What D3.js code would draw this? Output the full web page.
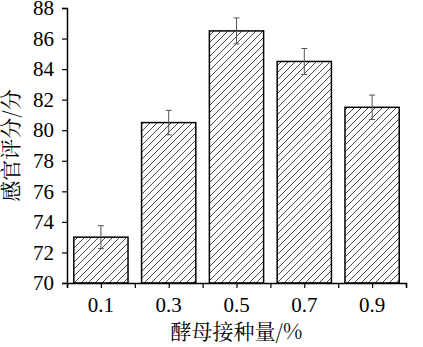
<!DOCTYPE html>
<html>
<head>
<meta charset="utf-8">
<script src="https://cdn.jsdelivr.net/npm/d3@7"></script>
<style>
  html, body { margin: 0; padding: 0; background: #fff; }
  svg text { fill: #000; }
  .num { font-family: "Liberation Serif", "Times New Roman", serif; font-size: 21px; }
  .title { font-family: "Noto Serif CJK SC", "Noto Sans CJK SC", sans-serif; font-size: 21px; }
</style>
</head>
<body>
<div id="chart"></div>
<script>
// data
var categories = ["0.1", "0.3", "0.5", "0.7", "0.9"];
var scores = [73.0, 80.5, 86.5, 84.5, 81.5];
var errors = [0.75, 0.8, 0.85, 0.85, 0.8];
var yTicks = [70, 72, 74, 76, 78, 80, 82, 84, 86, 88];
var xTitle = "酵母接种量/%";
var yTitle = "感官评分/分";

var width = 423, height = 347;
var plotLeft = 67, plotRight = 406, plotTop = 8, plotBottom = 283;

var svg = d3.select("#chart").append("svg")
    .attr("width", width)
    .attr("height", height);

var defs = svg.append("defs");
defs.append("pattern")
    .attr("id", "hatch")
    .attr("patternUnits", "userSpaceOnUse")
    .attr("width", 7)
    .attr("height", 7)
  .append("path")
    .attr("d", "M-1,1 l2,-2 M0,7 l7,-7 M6,8 l2,-2")
    .attr("stroke", "#333")
    .attr("stroke-width", 0.9);

var x = d3.scaleBand()
    .domain(categories)
    .range([plotLeft, plotRight])
    .paddingInner(0.2)
    .paddingOuter(0.1);

var xi = d3.scaleLinear().domain([0, categories.length]).range([plotLeft, plotRight]);

var y = d3.scaleLinear().domain([70, 88]).range([plotBottom, plotTop]);

var data = categories.map(function(c, i) {
    return { key: c, value: scores[i], err: errors[i] };
});

// bars
svg.append("g").selectAll("rect")
    .data(data)
    .enter()
    .append("rect")
    .attr("x", function(d) { return x(d.key); })
    .attr("y", function(d) { return y(d.value); })
    .attr("width", x.bandwidth())
    .attr("height", function(d) { return y(70) - y(d.value); })
    .attr("fill", "url(#hatch)")
    .attr("stroke", "#000")
    .attr("stroke-width", 1.5);

// error bars
var eb = svg.append("g")
    .attr("stroke", "#555")
    .attr("stroke-width", 1);
data.forEach(function(d) {
    var cx = x(d.key) + x.bandwidth() / 2;
    eb.append("line")
        .attr("x1", cx).attr("x2", cx)
        .attr("y1", y(d.value + d.err)).attr("y2", y(d.value - d.err));
    [d.value + d.err, d.value - d.err].forEach(function(v) {
        eb.append("line")
            .attr("x1", cx - 3).attr("x2", cx + 3)
            .attr("y1", y(v)).attr("y2", y(v));
    });
});

// y axis
var gY = svg.append("g")
    .attr("transform", "translate(" + plotLeft + ",0)");
gY.call(d3.axisLeft(y).tickValues(d3.range(71, 88, 2)).tickSize(3).tickFormat(""));
gY.call(d3.axisLeft(y).tickValues(yTicks).tickSize(5).tickPadding(8).tickFormat(d3.format("d")));
gY.selectAll("path.domain").attr("stroke-width", 1.5);
gY.selectAll(".tick line").attr("stroke-width", 1.2);
gY.selectAll("text").attr("class", "num");
gY.attr("font-size", null).attr("font-family", null);

// x axis
var gX = svg.append("g")
    .attr("transform", "translate(0," + plotBottom + ")");
gX.call(d3.axisBottom(xi).tickValues(d3.range(0.25, 5, 0.5)).tickSize(3).tickFormat(""));
gX.call(d3.axisBottom(xi).tickValues(d3.range(0, 5.01, 0.5)).tickSize(5).tickFormat(""));
gX.selectAll("path.domain").attr("stroke-width", 1.5);
gX.selectAll(".tick line").attr("stroke-width", 1.2);
gX.attr("font-size", null).attr("font-family", null);

svg.append("g").selectAll("text")
    .data(categories)
    .enter()
    .append("text")
    .attr("class", "num")
    .attr("x", function(d) { return x(d) + x.bandwidth() / 2; })
    .attr("y", 312)
    .attr("text-anchor", "middle")
    .text(function(d) { return d; });

// titles
svg.append("text")
    .attr("class", "title")
    .attr("x", (plotLeft + plotRight) / 2)
    .attr("y", 339)
    .attr("text-anchor", "middle")
    .text(xTitle);

svg.append("text")
    .attr("class", "title")
    .attr("transform", "translate(18," + (plotTop + plotBottom) / 2 + ") rotate(-90)")
    .attr("text-anchor", "middle")
    .text(yTitle);
</script>
</body>
</html>
